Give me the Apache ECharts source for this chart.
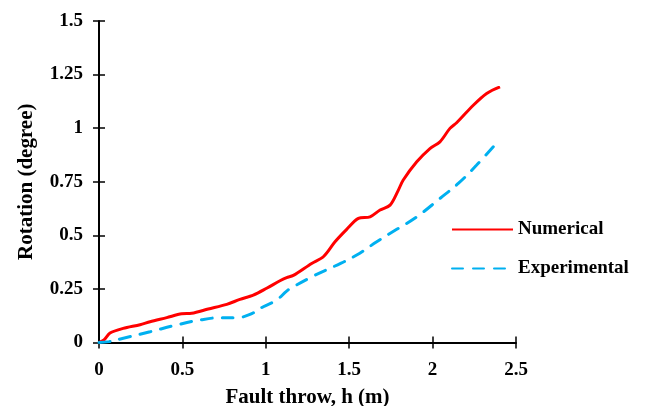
<!DOCTYPE html>
<html>
<head>
<meta charset="utf-8">
<script src="https://cdn.jsdelivr.net/npm/echarts@6/dist/echarts.min.js"></script>
<style>
  html, body { margin: 0; padding: 0; background: #fff; }
  #chart { width: 647px; height: 406px; }
</style>
</head>
<body>
<div id="chart"></div>
<script>
// Fault throw h (m) vs rotation (degree)
const numericalH = [0, 0.03, 0.066, 0.145, 0.246, 0.306, 0.406, 0.496, 0.556, 0.655, 0.766, 0.845, 0.925, 1.005, 1.085, 1.125, 1.165, 1.275, 1.345, 1.415, 1.485, 1.555, 1.625, 1.685, 1.745, 1.794, 1.824, 1.905, 1.984, 2.044, 2.104, 2.144, 2.244, 2.324, 2.404];
const numericalRot = [0, 0.012, 0.044, 0.066, 0.083, 0.097, 0.116, 0.134, 0.136, 0.156, 0.178, 0.201, 0.221, 0.253, 0.288, 0.303, 0.313, 0.369, 0.4, 0.47, 0.528, 0.579, 0.586, 0.618, 0.641, 0.71, 0.758, 0.843, 0.905, 0.936, 0.999, 1.025, 1.107, 1.162, 1.193];

const experimentalH = [0, 0.06, 0.146, 0.306, 0.466, 0.606, 0.735, 0.825, 0.905, 0.985, 1.065, 1.125, 1.165, 1.285, 1.415, 1.545, 1.665, 1.785, 1.905, 2.044, 2.154, 2.264, 2.4];
const experimentalRot = [0, 0.004, 0.02, 0.05, 0.082, 0.105, 0.116, 0.116, 0.131, 0.167, 0.198, 0.24, 0.26, 0.31, 0.357, 0.408, 0.47, 0.528, 0.586, 0.672, 0.742, 0.828, 0.945];

const seriesNames = ['Numerical', 'Experimental'];
const xTicks = { min: 0, max: 2.5, interval: 0.5 };
const yTicks = { min: 0, max: 1.5, interval: 0.25 };

const FONT = "'Liberation Serif', 'Times New Roman', serif";
const pairs = (xs, ys) => xs.map((x, i) => [x, ys[i]]);

const GRID = { left: 99, right: 131, top: 21, bottom: 63.5, containLabel: false, outerBoundsMode: 'none' };

const tickFont = { fontFamily: FONT, fontWeight: 'bold', fontSize: 19, color: '#000' };
const titleFont = { fontFamily: FONT, fontWeight: 'bold', fontSize: 21, color: '#000' };
const tickLine = { color: '#000', width: 1.5 };

function mainAxis(t, extra) {
  return Object.assign({
    type: 'value', gridIndex: 0, min: t.min, max: t.max, interval: t.interval,
    splitLine: { show: false },
    axisLine: { show: true, lineStyle: { color: '#000', width: 2 } },
    axisTick: { show: true, length: 6, lineStyle: tickLine }
  }, extra);
}

// same scale on an overlapping grid: draws the inner half of the crossing ticks
function innerTickAxis(t, pos) {
  return {
    type: 'value', gridIndex: 1, min: t.min, max: t.max, interval: t.interval,
    position: pos,
    splitLine: { show: false },
    axisLine: { show: false },
    axisLabel: { show: false },
    axisTick: { show: true, inside: true, length: 6, lineStyle: tickLine }
  };
}

const chart = echarts.init(document.getElementById('chart'), null, { renderer: 'canvas' });
chart.setOption({
  animation: false,
  backgroundColor: '#fff',
  grid: [Object.assign({}, GRID), Object.assign({}, GRID)],
  xAxis: [
    mainAxis(xTicks, {
      position: 'bottom',
      name: 'Fault throw, h (m)', nameLocation: 'middle', nameGap: 45,
      nameTextStyle: titleFont,
      axisLabel: Object.assign({ margin: 18 }, tickFont)
    }),
    innerTickAxis(xTicks, 'bottom')
  ],
  yAxis: [
    mainAxis(yTicks, {
      position: 'left',
      name: 'Rotation (degree)', nameLocation: 'middle', nameGap: 62,
      nameTextStyle: titleFont,
      axisLabel: Object.assign({ margin: 16 }, tickFont)
    }),
    innerTickAxis(yTicks, 'left')
  ],
  legend: {
    orient: 'vertical', left: 451, top: 220, padding: 0,
    itemWidth: 61, itemHeight: 14, itemGap: 20,
    itemStyle: { opacity: 0 },
    textStyle: tickFont,
    data: seriesNames
  },
  series: [
    {
      name: seriesNames[0], type: 'line', xAxisIndex: 0, yAxisIndex: 0,
      data: pairs(numericalH, numericalRot),
      symbol: 'none', smooth: 0.3,
      lineStyle: { color: '#FF0000', width: 3 },
      itemStyle: { color: '#FF0000' }
    },
    {
      name: seriesNames[1], type: 'line', xAxisIndex: 0, yAxisIndex: 0,
      data: pairs(experimentalH, experimentalRot),
      symbol: 'none', smooth: 0.4,
      lineStyle: { color: '#00B0F0', width: 3, type: [11, 10], cap: 'round' },
      itemStyle: { color: '#00B0F0' }
    }
  ]
});
</script>
</body>
</html>
